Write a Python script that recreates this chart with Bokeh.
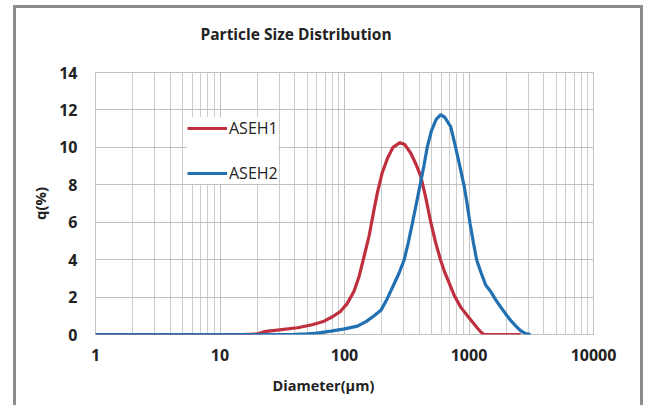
from bokeh.plotting import figure
from bokeh.models import FixedTicker, Legend, LegendItem, Title
from bokeh.embed import file_html
from bokeh.resources import INLINE

# ---- data ----
title_text = "Particle Size Distribution"
x_label = "Diameter(\u03bcm)"
y_label = "q(%)"

x_ticks = [1, 10, 100, 1000, 10000]
x_tick_labels = ["1", "10", "100", "1000", "10000"]
x_minor = [m * d for d in [1, 10, 100, 1000] for m in range(2, 10)]
y_ticks = [0, 2, 4, 6, 8, 10, 12, 14]

names = ["ASEH1", "ASEH2"]

diam_aseh1 = [1, 2, 5, 10, 15, 20, 22.6, 30, 42, 55, 68.6, 80, 93, 105, 119, 131, 144, 158,
              173, 184, 200, 221, 245, 279, 305, 340, 375, 410, 450, 493, 540, 590, 632, 713,
              760, 860, 971, 1070, 1167, 1250, 1320, 2600]
q_aseh1 = [0, 0, 0, 0, 0, 0.03, 0.15, 0.25, 0.36, 0.52, 0.71, 0.95, 1.24, 1.65, 2.3, 3.1, 4.2, 5.3,
           6.7, 7.6, 8.6, 9.4, 10.0, 10.25, 10.15, 9.7, 9.1, 8.45, 7.3, 6.0, 4.9, 4.0, 3.4, 2.55,
           2.1, 1.45, 1.0, 0.65, 0.35, 0.12, 0, 0]

diam_aseh2 = [1, 10, 30, 40, 50, 60, 78, 100, 127, 150, 173, 196, 220, 250, 275, 301, 325, 351,
              378, 404, 434, 464, 500, 545, 593, 640, 713, 782, 850, 912, 965, 1019, 1085, 1153,
              1250, 1361, 1493, 1640, 1796, 1970, 2161, 2380, 2600, 2850, 3125]
q_aseh2 = [0, 0, 0, 0.01, 0.03, 0.07, 0.18, 0.3, 0.45, 0.7, 1.0, 1.29, 1.9, 2.7, 3.3, 3.98, 4.9, 5.95,
           7.0, 7.97, 9.0, 10.07, 10.9, 11.5, 11.75, 11.6, 11.1, 9.98, 8.9, 7.97, 7.0, 5.95, 4.9, 3.98,
           3.3, 2.65, 2.3, 1.85, 1.47, 1.1, 0.75, 0.45, 0.2, 0.05, 0]

colors = ["#bf2f3d", "#2170b1"]
grid_color = "#c0c0c0"
FONT = "Open Sans"

p = figure(width=630, height=400, x_axis_type="log", x_range=(1, 10000), y_range=(0, 14),
           output_backend="svg", toolbar_location=None,
           min_border_left=79, min_border_right=53, min_border_top=64, min_border_bottom=74)
p.styles = {"margin-left": "13px",
            "margin-top": "5px",
            "border-left": "3px solid #8c8c8c",
            "border-top": "3px solid #8c8c8c",
            "border-right": "3px solid #8c8c8c"}

spacer = Title(text=" ", text_font_size="2px", standoff=11)
p.add_layout(spacer, "above")
t = Title(text=title_text, align="left", offset=105, text_font=FONT, text_font_size="15.5px",
          text_font_style="bold", text_color="#222222", standoff=25)
p.add_layout(t, "above")

p.background_fill_color = "white"
p.border_fill_color = "white"
p.outline_line_color = grid_color

p.xaxis.ticker = FixedTicker(ticks=x_ticks, minor_ticks=x_minor)
p.yaxis.ticker = FixedTicker(ticks=y_ticks)
p.xaxis.major_label_overrides = {v: s for v, s in zip(x_ticks, x_tick_labels)}

for ax in (p.xaxis, p.yaxis):
    ax.axis_line_color = None
    ax.major_tick_line_color = None
    ax.minor_tick_line_color = None
    ax.major_label_text_font = FONT
    ax.major_label_text_font_size = "16px"
    ax.major_label_text_font_style = "bold"
    ax.major_label_text_color = "#222222"
    ax.axis_label_text_font = FONT
    ax.axis_label_text_font_style = "bold"
    ax.axis_label_text_color = "#222222"

p.yaxis.axis_label = y_label
p.yaxis.axis_label_text_font_size = "15px"
p.xaxis.major_label_standoff = 8
p.yaxis.major_label_standoff = 12
p.yaxis.axis_label_standoff = 6

xt = Title(text=x_label, align="left", offset=177, text_font=FONT, text_font_size="14.5px",
           text_font_style="bold", text_color="#222222", standoff=20)
p.add_layout(xt, "below")

p.xgrid.grid_line_color = grid_color
p.xgrid.minor_grid_line_color = "#cccccc"
p.ygrid.grid_line_color = grid_color

r1 = p.line(diam_aseh1, q_aseh1, line_color=colors[0], line_width=3.2)
r2 = p.line(diam_aseh2, q_aseh2, line_color=colors[1], line_width=3.2)

legend = Legend(items=[LegendItem(label=names[0], renderers=[r1]),
                       LegendItem(label=names[1], renderers=[r2])],
                location=(92, 150), margin=0, padding=14, spacing=23,
                glyph_width=40, glyph_height=20, label_height=20, label_standoff=2,
                label_text_font=FONT, label_text_font_size="16px", label_text_color="#222222",
                border_line_color=None, background_fill_color="white", background_fill_alpha=1.0)
p.add_layout(legend)

open("out.html", "w").write(file_html(p, INLINE))
